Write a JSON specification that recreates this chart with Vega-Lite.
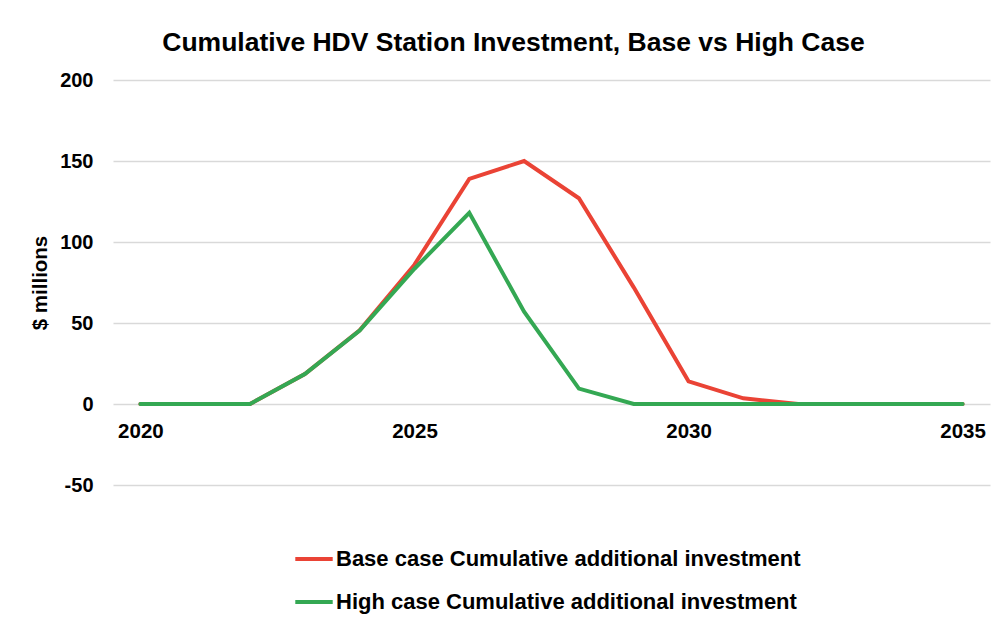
{
  "$schema": "https://vega.github.io/schema/vega-lite/v6.json",
  "autosize": {"type": "none"},
  "width": 877,
  "height": 405,
  "padding": {"left": 113, "top": 80, "right": 15, "bottom": 141},
  "background": "white",
  "title": {
    "text": "Cumulative HDV Station Investment, Base vs High Case",
    "font": "Liberation Sans",
    "fontSize": 26.5,
    "fontWeight": "bold",
    "color": "#000000",
    "anchor": "middle",
    "offset": 14,
    "dx": -38
  },
  "config": {
    "view": {"stroke": null},
    "font": "Liberation Sans"
  },
  "data": {
    "values": [
      {"year": 2020, "series": "Base case Cumulative additional investment", "value": 0},
      {"year": 2021, "series": "Base case Cumulative additional investment", "value": 0},
      {"year": 2022, "series": "Base case Cumulative additional investment", "value": 0},
      {"year": 2023, "series": "Base case Cumulative additional investment", "value": 18.5},
      {"year": 2024, "series": "Base case Cumulative additional investment", "value": 45.5},
      {"year": 2025, "series": "Base case Cumulative additional investment", "value": 86},
      {"year": 2026, "series": "Base case Cumulative additional investment", "value": 139},
      {"year": 2027, "series": "Base case Cumulative additional investment", "value": 150},
      {"year": 2028, "series": "Base case Cumulative additional investment", "value": 127},
      {"year": 2029, "series": "Base case Cumulative additional investment", "value": 72},
      {"year": 2030, "series": "Base case Cumulative additional investment", "value": 14},
      {"year": 2031, "series": "Base case Cumulative additional investment", "value": 3.5},
      {"year": 2032, "series": "Base case Cumulative additional investment", "value": 0},
      {"year": 2033, "series": "Base case Cumulative additional investment", "value": 0},
      {"year": 2034, "series": "Base case Cumulative additional investment", "value": 0},
      {"year": 2035, "series": "Base case Cumulative additional investment", "value": 0},
      {"year": 2020, "series": "High case Cumulative additional investment", "value": 0},
      {"year": 2021, "series": "High case Cumulative additional investment", "value": 0},
      {"year": 2022, "series": "High case Cumulative additional investment", "value": 0},
      {"year": 2023, "series": "High case Cumulative additional investment", "value": 18.5},
      {"year": 2024, "series": "High case Cumulative additional investment", "value": 45.3},
      {"year": 2025, "series": "High case Cumulative additional investment", "value": 83.5},
      {"year": 2026, "series": "High case Cumulative additional investment", "value": 118},
      {"year": 2027, "series": "High case Cumulative additional investment", "value": 57},
      {"year": 2028, "series": "High case Cumulative additional investment", "value": 9.5},
      {"year": 2029, "series": "High case Cumulative additional investment", "value": 0},
      {"year": 2030, "series": "High case Cumulative additional investment", "value": 0},
      {"year": 2031, "series": "High case Cumulative additional investment", "value": 0},
      {"year": 2032, "series": "High case Cumulative additional investment", "value": 0},
      {"year": 2033, "series": "High case Cumulative additional investment", "value": 0},
      {"year": 2034, "series": "High case Cumulative additional investment", "value": 0},
      {"year": 2035, "series": "High case Cumulative additional investment", "value": 0}
    ]
  },
  "mark": {"type": "line", "strokeWidth": 4, "strokeCap": "round", "strokeJoin": "miter"},
  "encoding": {
    "x": {
      "field": "year",
      "type": "quantitative",
      "scale": {"domain": [2019.5, 2035.5], "nice": false, "zero": false},
      "axis": {
        "values": [2020, 2025, 2030, 2035],
        "format": "d",
        "title": null,
        "grid": false,
        "domain": false,
        "ticks": false,
        "offset": -81,
        "labelPadding": 17,
        "labelFont": "Liberation Sans",
        "labelFontSize": 20.5,
        "labelFontWeight": "bold",
        "labelColor": "#000000"
      }
    },
    "y": {
      "field": "value",
      "type": "quantitative",
      "scale": {"domain": [-50, 200], "nice": false},
      "axis": {
        "values": [-50, 0, 50, 100, 150, 200],
        "labelExpr": "datum.value < 0 ? '-' + abs(datum.value) : datum.label",
        "title": "$ millions",
        "titleFont": "Liberation Sans",
        "titleFontSize": 20.5,
        "titleFontWeight": "bold",
        "titleColor": "#000000",
        "titlePadding": 9,
        "grid": true,
        "gridColor": "#d9d9d9",
        "gridWidth": 1.5,
        "domain": false,
        "ticks": false,
        "labelPadding": 20,
        "labelFont": "Liberation Sans",
        "labelFontSize": 20,
        "labelFontWeight": "bold",
        "labelColor": "#000000"
      }
    },
    "color": {
      "field": "series",
      "type": "nominal",
      "scale": {
        "domain": ["Base case Cumulative additional investment", "High case Cumulative additional investment"],
        "range": ["#EA4335", "#34A853"]
      },
      "legend": {
        "title": null,
        "orient": "none",
        "legendX": 180,
        "legendY": 458,
        "direction": "vertical",
        "symbolType": "stroke",
        "symbolStrokeWidth": 4,
        "symbolSize": 1400,
        "rowPadding": 11,
        "labelFont": "Liberation Sans",
        "labelFontSize": 22,
        "labelFontWeight": "bold",
        "labelColor": "#000000",
        "labelOffset": 1,
        "labelLimit": 700
      }
    }
  }
}
